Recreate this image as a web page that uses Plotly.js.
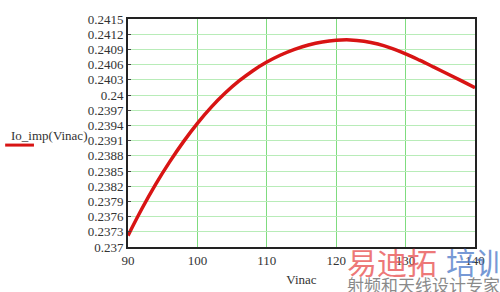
<!DOCTYPE html>
<html>
<head>
<meta charset="utf-8">
<script src="https://cdn.plot.ly/plotly-3.0.1.min.js"></script>
<style>html,body{margin:0;padding:0;background:#fff;}#chart{width:500px;height:292px;}</style>
</head>
<body>
<div id="chart"></div>
<script>
const vinac = [90, 92, 94, 96, 98, 100, 102, 104, 106, 108, 110, 112, 114, 116, 118, 120, 122, 124, 126, 128, 130, 132, 134, 136, 138, 140];
const ioImp = [0.237225, 0.237755, 0.23824, 0.23868, 0.23908, 0.23944, 0.23976, 0.240038, 0.240277, 0.24048, 0.24065, 0.240789, 0.240901, 0.240987, 0.241047, 0.24108, 0.241087, 0.241062, 0.241007, 0.240922, 0.240812, 0.240687, 0.240555, 0.24042, 0.240283, 0.240144];
const yTickVals = [0.237, 0.2373, 0.2376, 0.2379, 0.2382, 0.2385, 0.2388, 0.2391, 0.2394, 0.2397, 0.24, 0.2403, 0.2406, 0.2409, 0.2412, 0.2415];
const yTickText = ["0.237", "0.2373", "0.2376", "0.2379", "0.2382", "0.2385", "0.2388", "0.2391", "0.2394", "0.2397", "0.24", "0.2403", "0.2406", "0.2409", "0.2412", "0.2415"];
const xTickVals = [90, 100, 110, 120, 130, 140];
const xTickText = ["90", "100", "110", "120", "130", "140"];

const serif = "Liberation Serif, Times New Roman, serif";
const trace = {
  x: vinac, y: ioImp, type: 'scatter', mode: 'lines',
  line: {color: '#d81414', width: 3.5, shape: 'spline', smoothing: 1},
  hoverinfo: 'skip'
};
const layout = {
  width: 500, height: 292,
  margin: {l: 128, r: 25, t: 19, b: 45},
  paper_bgcolor: '#ffffff', plot_bgcolor: '#ffffff',
  showlegend: false,
  font: {family: serif, color: '#333333', size: 13},
  xaxis: {
    range: [90, 140], tickvals: xTickVals, ticktext: xTickText,
    showgrid: true, gridcolor: '#7fdc7f', gridwidth: 1,
    zeroline: false, showline: true, linecolor: '#222', linewidth: 2, mirror: true,
    ticks: '', ticklen: 0,
    tickfont: {family: serif, size: 13, color: '#333'},
    title: {text: 'Vinac', font: {family: serif, size: 13, color: '#333'}, standoff: 8}
  },
  yaxis: {
    range: [0.237, 0.2415], tickvals: yTickVals, ticktext: yTickText,
    showgrid: true, gridcolor: '#b8ecb8', gridwidth: 1,
    zeroline: false, showline: true, linecolor: '#222', linewidth: 2, mirror: true,
    ticks: 'inside', ticklen: 3, tickcolor: '#444',
    tickfont: {family: serif, size: 13, color: '#333'}
  },
  annotations: [
    {text: 'Io_imp(Vinac)', xref: 'paper', yref: 'paper', x: -0.113, y: 0.487, xanchor: 'right', yanchor: 'middle',
     showarrow: false, font: {family: serif, size: 13, color: '#333'}},
    {text: '易迪拓', xref: 'paper', yref: 'paper', x: 0.625, y: -0.06, xanchor: 'left', yanchor: 'middle',
     showarrow: false, opacity: 0.75, font: {family: 'Noto Sans CJK SC', size: 30, color: '#e84b4b'}},
    {text: '培训', xref: 'paper', yref: 'paper', x: 0.91, y: -0.06, xanchor: 'left', yanchor: 'middle',
     showarrow: false, opacity: 0.75, font: {family: 'Noto Sans CJK SC', size: 30, color: '#4a78c8'}},
    {text: '射频和天线设计专家', xref: 'paper', yref: 'paper', x: 0.625, y: -0.165, xanchor: 'left', yanchor: 'middle',
     showarrow: false, font: {family: 'Noto Sans CJK SC', size: 17, color: '#8a8a8a'}}
  ],
  shapes: [
    {type: 'line', xref: 'paper', yref: 'paper', x0: -0.354, x1: -0.271, y0: 0.447, y1: 0.447,
     line: {color: '#d81414', width: 3}}
  ]
};
Plotly.newPlot('chart', [trace], layout, {displayModeBar: false, staticPlot: true});
</script>
</body>
</html>
